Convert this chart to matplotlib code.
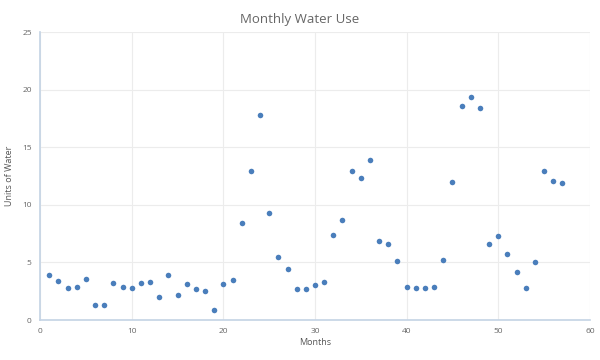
import matplotlib
matplotlib.use("Agg")
from matplotlib import pyplot as plt

months = list(range(1, 58))
water = [3.9, 3.4, 2.8, 2.9, 3.6, 1.3, 1.3, 3.2, 2.9, 2.8,
         3.2, 3.3, 2.0, 3.9, 2.2, 3.1, 2.7, 2.5, 0.9, 3.1,
         3.5, 8.4, 12.9, 17.8, 9.3, 5.5, 4.4, 2.7, 2.7, 3.0,
         3.3, 7.4, 8.7, 12.9, 12.3, 13.9, 6.9, 6.6, 5.1, 2.9,
         2.8, 2.8, 2.9, 5.2, 12.0, 18.6, 19.4, 18.4, 6.6, 7.3,
         5.7, 4.2, 2.8, 5.0, 12.9, 12.1, 11.9]

plt.rcParams['font.family'] = ['Open Sans', 'DejaVu Sans']

fig = plt.figure(figsize=(6, 3.6), dpi=100)
ax = fig.add_axes([0.0667, 0.111, 0.9166, 0.8])

ax.scatter(months, water, s=16, color='#4a7ebb', zorder=3, linewidths=0)

ax.set_xlim(0, 60)
ax.set_ylim(0, 25)
ax.set_xticks(range(0, 61, 10))
ax.set_yticks(range(0, 26, 5))
ax.grid(True, color='#ececec', linewidth=0.8)
ax.set_axisbelow(True)

for s in ['top', 'right']:
    ax.spines[s].set_visible(False)
for s in ['left', 'bottom']:
    ax.spines[s].set_color('#c4d3e4')
    ax.spines[s].set_linewidth(1.2)

ax.tick_params(length=0, labelsize=6, colors='#666666', pad=6)
ax.set_xlabel('Months', fontsize=6.5, color='#555555', labelpad=2)
ax.set_ylabel('Units of Water', fontsize=6.5, color='#555555', labelpad=6)
fig.suptitle('Monthly Water Use', y=0.965, fontsize=9.5, color='#666666')

fig.savefig('out.png', dpi=100)
